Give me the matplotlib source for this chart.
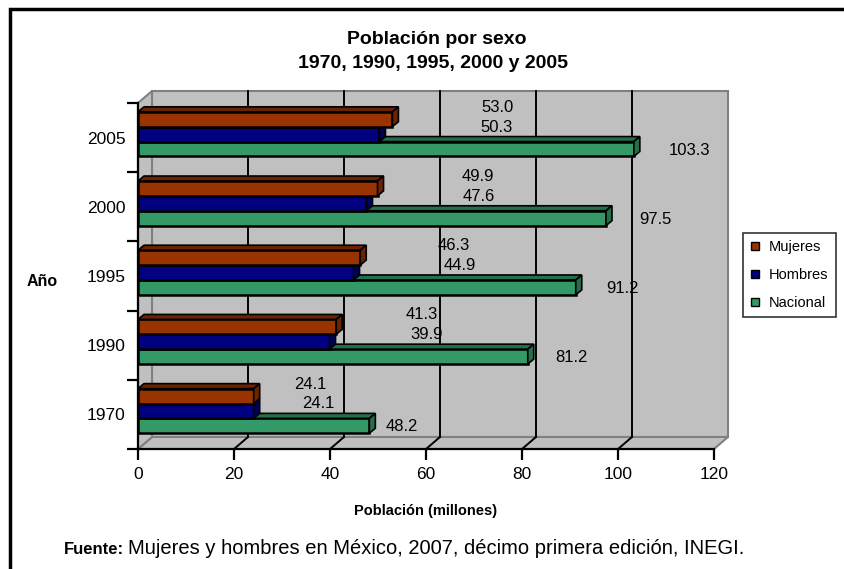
import matplotlib
matplotlib.use('Agg')
import matplotlib.pyplot as plt
from matplotlib.patches import Polygon, Rectangle
from matplotlib.lines import Line2D

plt.rcParams['font.family'] = ['Liberation Sans', 'DejaVu Sans']

YEARS = ['1970', '1990', '1995', '2000', '2005']
MUJERES = [24.1, 41.3, 46.3, 49.9, 53.0]
HOMBRES = [24.1, 39.9, 44.9, 47.6, 50.3]
NACIONAL = [48.2, 81.2, 91.2, 97.5, 103.3]
XTICKS = [0, 20, 40, 60, 80, 100, 120]

# front colour, darker colour for the 3-D faces
COLORS = {'Mujeres': ('#993300', '#6b2300'),
          'Hombres': ('#000080', '#000058'),
          'Nacional': ('#339966', '#246e49')}
GRAY, EDGE = '#C0C0C0', '#808080'

W, H = 844, 569
fig = plt.figure(figsize=(W / 100, H / 100), dpi=100)
# front plane of the 3-D box: x 138..714 px, y 103..449 px from top
ax = fig.add_axes([138 / W, 1 - 449 / H, 576 / W, 346 / H])
ax.set_xlim(0, 120); ax.set_ylim(0, 5)
ax.set_facecolor('none')
ux, uy = 120 / 576, 5 / 346          # data units per pixel
DX, DY = 14 * ux, 12 * uy           # depth of the walls
BX, BY = 6 * ux, 5 * uy             # depth of the bars

# walls and floor
ax.add_patch(Polygon([(DX, DY), (120 + DX, DY), (120 + DX, 5 + DY), (DX, 5 + DY)],
                     fc=GRAY, ec=EDGE, lw=1.5, zorder=0, clip_on=False))
ax.add_patch(Polygon([(0, 0), (120, 0), (120 + DX, DY), (DX, DY)],
                     fc=GRAY, ec=EDGE, lw=1.5, zorder=0.5, clip_on=False))
ax.add_patch(Polygon([(0, 0), (0, 5), (DX, 5 + DY), (DX, DY)],
                     fc=GRAY, ec=EDGE, lw=1.5, zorder=0.5, clip_on=False))
for t in XTICKS[1:-1]:
    ax.plot([t + DX, t + DX], [DY, 5 + DY], color='black', lw=1.4, zorder=1, clip_on=False)
    ax.plot([t, t + DX], [0, DY], color='black', lw=1.4, zorder=1, clip_on=False)

# bars, drawn bottom series first so the next one hides its top face
h = 0.215
series = [('Nacional', NACIONAL, -h, 1.07, -1),
          ('Hombres', HOMBRES, 0, 1.42, 7),
          ('Mujeres', MUJERES, h, 1.35, 12)]
for z, (name, vals, off, lab_scale, lab_dy) in enumerate(series):
    front, dark = COLORS[name]
    ys = [i + 0.55 + off for i in range(len(YEARS))]
    ax.barh(ys, vals, height=h, color=front, edgecolor='black', lw=1.8,
            zorder=3 + z)
    for y, v in zip(ys, vals):
        yt, yb = y + h / 2, y - h / 2
        ax.add_patch(Polygon([(0, yt), (v, yt), (v + BX, yt + BY), (BX, yt + BY)],
                             fc=dark, ec='black', lw=1.2, zorder=3 + z, clip_on=False))
        ax.add_patch(Polygon([(v, yb), (v, yt), (v + BX, yt + BY), (v + BX, yb + BY)],
                             fc=dark, ec='black', lw=1.2, zorder=3 + z, clip_on=False))
        ax.annotate(f'{v:.1f}', (v * lab_scale, y), xytext=(0, lab_dy),
                    textcoords='offset pixels', ha='left', va='center',
                    fontsize=12, zorder=10)

# axes
for s in ['top', 'right']:
    ax.spines[s].set_visible(False)
for s in ['left', 'bottom']:
    ax.spines[s].set_linewidth(1.6)
    ax.spines[s].set_zorder(2)
ax.set_xticks(XTICKS)
ax.set_xticklabels([str(t) for t in XTICKS], fontsize=12.5)
ax.set_yticks(range(6))
ax.set_yticklabels([''] * 6)
ax.set_yticks([i + 0.5 for i in range(len(YEARS))], minor=True)
ax.set_yticklabels(YEARS, minor=True, fontsize=12.5)
ax.tick_params(axis='both', which='major', direction='out', length=8, width=1.6)
ax.tick_params(axis='y', which='minor', length=0, pad=9)
ax.tick_params(axis='x', pad=5)

ax.set_xlabel('Población (millones)', fontsize=10.5, fontweight='bold', labelpad=16)
fig.text(42 / W, 1 - 282 / H, 'Año', fontsize=11.5, fontweight='bold', ha='center', va='center')

fig.text(437 / W, 1 - 40 / H, 'Población por sexo', fontsize=14, fontweight='bold',
         ha='center', va='center')
fig.text(433 / W, 1 - 64 / H, '1970, 1990, 1995, 2000 y 2005', fontsize=14,
         fontweight='bold', ha='center', va='center')

handles = [Line2D([], [], ls='none', marker='s', markersize=6, mfc=COLORS[k][0],
                  mec='black', mew=1) for k in ['Mujeres', 'Hombres', 'Nacional']]
leg = fig.legend(handles, ['Mujeres', 'Hombres', 'Nacional'], loc='upper left',
                 bbox_to_anchor=(743 / W, 1 - 233 / H), fontsize=10.5, frameon=True,
                 fancybox=False, edgecolor='black', handlelength=0.7, handletextpad=0.6,
                 labelspacing=0.95, borderpad=0.5, borderaxespad=0)
leg.get_frame().set_linewidth(1.2)

src = fig.text(64 / W, 1 - 554 / H, 'Fuente:', fontsize=12, fontweight='bold',
               va='baseline')
fig.canvas.draw()
x1 = src.get_window_extent().x1
fig.text((x1 + 4) / W, 1 - 554 / H,
         'Mujeres y hombres en México, 2007, décimo primera edición, INEGI.',
         fontsize=14.5, va='baseline')

# outer chart frame (runs off the right and bottom edges)
fig.add_artist(Rectangle((10 / W, -0.1), 1.2, 1.1 - 9 / H, transform=fig.transFigure,
                         fill=False, lw=2.5, ec='black'))

fig.savefig('out.png', dpi=100)
